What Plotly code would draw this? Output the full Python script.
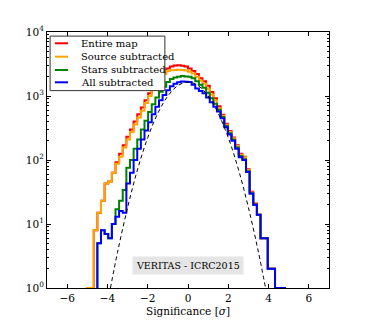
import plotly.graph_objects as go

# histogram of sky-map significances, bins of 0.18 sigma
BIN_WIDTH = 0.18
bin_edges = [round(BIN_WIDTH * k, 2) for k in range(-28, 28)]

# counts per bin (left edge -5.04 ... right edge 4.86)
entire_map = [
    1, 1,
    8, 15, 23, 43, 46, 63, 92,
    125, 170, 230, 300, 400, 520, 660, 860,
    1100, 1400, 1700, 2000, 2350, 2700, 2900, 3000, 3020, 2980, 2900,
    2700, 2450, 2200, 1900, 1700, 1450, 1150, 920, 690, 510,
    370, 285, 225, 170, 125, 112, 72, 32, 21, 14,
    6, 6, 2, 2, 1, 1, 1,
]
source_subtracted = [
    1, 1,
    8, 15, 23, 43, 46, 63, 87,
    112, 157, 210, 275, 360, 460, 590, 780,
    1000, 1250, 1550, 1900, 2200, 2450, 2520, 2550, 2560, 2550, 2500,
    2400, 2250, 2000, 1750, 1550, 1300, 1050, 850, 650, 490,
    355, 275, 218, 165, 121, 110, 70, 31, 20, 14,
    6, 6, 2, 2, 1, 1, 1,
]
stars_subtracted = [
    0, 0, 0,
    5, 8, 7, 6, 10, 17,
    23, 34, 76, 100, 150, 210, 300, 410,
    560, 740, 950, 1170, 1400, 1650, 1850, 1950, 2000, 2050, 2020,
    2000, 1900, 1700, 1500, 1350, 1120, 920, 760, 610, 470,
    340, 262, 208, 157, 115, 103, 67, 30, 20, 14,
    6, 6, 2, 2, 1, 1, 1,
]
all_subtracted = [
    0, 0, 0,
    5, 8, 7, 6, 10, 13,
    16, 15, 43, 63, 100, 150, 210, 290,
    390, 520, 680, 860, 1040, 1230, 1420, 1560, 1640, 1680, 1670,
    1650, 1500, 1310, 1200, 1100, 950, 800, 680, 570, 450,
    325, 250, 200, 150, 110, 100, 65, 30, 20, 14,
    6, 6, 2, 2, 1, 1, 1,
]

# expected normal distribution (dashed)
normal_x = [-3.85, -3.5, -3.0, -2.5, -2.0, -1.5, -1.0, -0.5, 0.0,
            0.5, 1.0, 1.5, 2.0, 2.5, 3.0, 3.5, 3.85]
normal_y = [1.0, 3.6, 18, 72, 223, 536, 1000, 1456, 1650,
            1456, 1000, 536, 223, 72, 18, 3.6, 1.0]

series = [
    ("Entire map", entire_map, "#ff0000"),
    ("Source subtracted", source_subtracted, "#ffa500"),
    ("Stars subtracted", stars_subtracted, "#008000"),
    ("All subtracted", all_subtracted, "#0000ff"),
]

SERIF = "DejaVu Serif, Liberation Serif, serif"


def step_outline(edges, counts):
    """matplotlib histtype='step' outline; empty bins at the ends are dropped"""
    nz = [i for i, c in enumerate(counts) if c > 0]
    first, last = nz[0], nz[-1]
    xs = [edges[first]] + edges[first:last + 1] + [edges[last + 1], edges[last + 1]]
    ys = [1] + counts[first:last + 1] + [counts[last], 1]
    return xs, ys


fig = go.Figure()
for name, counts, color in series:
    xs, ys = step_outline(bin_edges, counts)
    fig.add_trace(go.Scatter(
        x=xs, y=ys, mode="lines", name=name, showlegend=False,
        line=dict(color=color, width=2, shape="hv"),
    ))

fig.add_trace(go.Scatter(
    x=normal_x, y=normal_y, mode="lines", showlegend=False,
    line=dict(color="black", width=1, dash="4px,3px", shape="spline"),
))

# matplotlib-style legend box (compact rows), drawn over the curves
fig.add_shape(type="rect", xref="paper", yref="paper",
              x0=0.011, x1=0.418, y0=0.771, y1=0.984,
              fillcolor="white", line=dict(color="#333", width=1), layer="above")
row_y = [0.956, 0.9035, 0.8516, 0.8035]
for (name, _, color), ry in zip(series, row_y):
    fig.add_shape(type="line", xref="paper", yref="paper",
                  x0=0.028, x1=0.0745, y0=ry, y1=ry,
                  line=dict(color=color, width=2), layer="above")
    fig.add_annotation(text=name, xref="paper", yref="paper", x=0.1135, y=ry,
                       xanchor="left", yanchor="middle", showarrow=False,
                       font=dict(size=10, family=SERIF, color="black"))

fig.add_annotation(
    text="VERITAS - ICRC2015", x=0, xref="x", y=0.05, yref="paper",
    showarrow=False, bgcolor="#e5e5e5", borderpad=3,
    font=dict(size=9.5, family=SERIF, color="black"),
)

# the page body adds an 8px margin, so the figure is 8px smaller than the window
fig.update_layout(
    width=358, height=312,
    margin=dict(l=39, r=37, t=24, b=32, autoexpand=False),
    paper_bgcolor="white", plot_bgcolor="white",
    font=dict(family=SERIF, size=10, color="black"),
    showlegend=False,
)
fig.update_xaxes(
    range=[-7, 7], tickvals=[-6, -4, -2, 0, 2, 4, 6],
    ticks="inside", ticklen=4, tickcolor="black", mirror="ticks",
    showline=True, linecolor="black", linewidth=1, automargin=False,
    showgrid=False, zeroline=False, tickfont=dict(size=10.5),
    title=dict(text="Significance [<i>σ</i>]", standoff=5, font=dict(size=10.5)),
)
fig.update_yaxes(
    type="log", range=[0, 4],
    tickvals=[1, 10, 100, 1000, 10000],
    ticktext=["10<sup>0</sup>", "10<sup>1</sup>", "10<sup>2</sup>",
              "10<sup>3</sup>", "10<sup>4</sup>"],
    ticks="inside", ticklen=4, tickcolor="black", mirror="allticks",
    minor=dict(ticks="inside", ticklen=2, tickcolor="black", dtick="D1", showgrid=False),
    showline=True, linecolor="black", linewidth=1, automargin=False,
    showgrid=False, zeroline=False, tickfont=dict(size=10.5),
)

fig.write_html("out.html")
